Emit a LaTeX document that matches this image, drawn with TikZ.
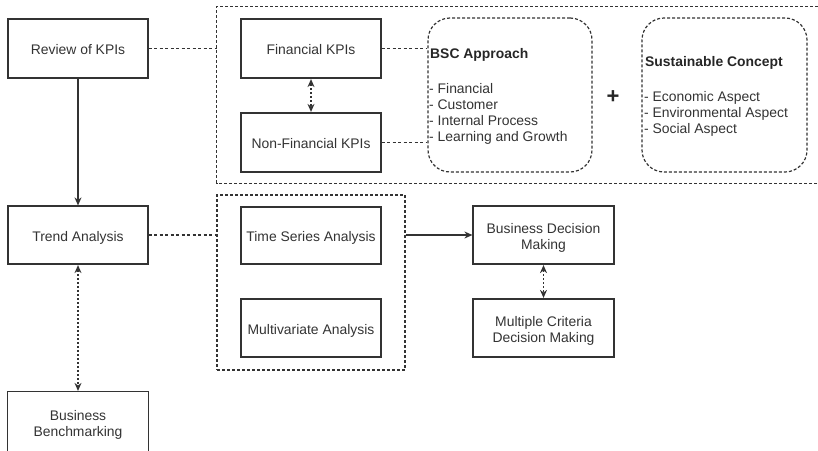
\documentclass[tikz,border=0pt]{standalone}
\usepackage{fontspec}
\setmainfont{Liberation Sans}
\usetikzlibrary{arrows.meta}
\definecolor{ink}{HTML}{333333}
\tikzset{
  box/.style={draw=ink, line width=1.2pt, rectangle, minimum width=140pt, minimum height=58pt,
    inner sep=0pt, align=center, text=ink, font=\fontsize{13.9}{16}\selectfont,
    text height=12.4pt, text depth=0pt},
  twoline/.style={text height=28.4pt, text depth=0pt},
  groupbox/.style={draw=ink, line width=1.2pt, dash pattern=on 3pt off 2pt, rectangle, inner sep=0pt},
  roundbox/.style={draw=ink, line width=1.2pt, dash pattern=on 3pt off 2pt, rectangle,
    rounded corners=22pt, inner sep=0pt},
  label/.style={inner sep=0pt, anchor=west, align=left, text=ink, font=\fontsize{13.9}{16}\selectfont},
  titletext/.style={label, font=\fontsize{13.9}{16}\selectfont\bfseries, text=black!85},
  dashlink/.style={draw=ink, line width=1.2pt, dash pattern=on 3pt off 2.5pt},
  dotlink/.style={draw=ink, line width=1.2pt, dash pattern=on 2pt off 2pt,
    {Stealth[length=8pt,width=7pt]}-{Stealth[length=8pt,width=7pt]}, shorten <=0.5pt, shorten >=0.5pt},
  solidlink/.style={draw=ink, line width=1.2pt, -{Stealth[length=8pt,width=7pt]}},
}
\begin{document}
\begin{tikzpicture}[x=1pt, y=-1pt]
  \useasboundingbox (0,0) rectangle (818,450);

  % group frames
  \node[inner sep=0pt, minimum width=601pt, minimum height=176pt] (kpigroup) at (517.5,95) {};
  \draw[groupbox] (kpigroup.north east) -- (kpigroup.north west) -- (kpigroup.south west) -- (kpigroup.south east);
  \node[groupbox, minimum width=188pt, minimum height=175pt] (tgroup) at (311,282.5) {};

  % left column
  \node[box, minimum height=59pt] (review) at (78,48.5) {Review of KPIs};
  \node[box] (trend) at (78,235) {Trend Analysis};
  \node[box, twoline, draw=none, minimum height=60pt] (bench) at (78,422) {Business\\Benchmarking};
  \draw[draw=ink, line width=1.2pt] (bench.south west) -- (bench.north west) -- (bench.north east) -- (bench.south east);

  % KPI boxes
  \node[box, minimum height=59pt] (fin) at (311,48.5) {Financial KPIs};
  \node[box, minimum height=59pt] (nonfin) at (311,142.5) {Non-Financial KPIs};

  % analysis boxes
  \node[box, minimum height=57pt] (tsa) at (311,235.5) {Time Series Analysis};
  \node[box] (mva) at (311,328) {Multivariate Analysis};

  % decision boxes
  \node[box, twoline, minimum width=141pt] (bdm) at (543.5,235) {Business Decision\\Making};
  \node[box, twoline, minimum width=141pt] (mcdm) at (543.5,328) {Multiple Criteria\\Decision Making};

  % BSC approach
  \node[roundbox, minimum width=164pt, minimum height=154pt] (bsc) at (510,95) {};
  \node[titletext] (bsctitle) at (430,55) {BSC Approach};
  \node[label] (bsclist) at (429,113.5) {- Financial\\- Customer\\- Internal Process\\- Learning and Growth};

  % sustainable concept
  \node[roundbox, minimum width=165pt, minimum height=154pt] (sus) at (724.5,95) {};
  \node[titletext] (sustitle) at (645,63) {Sustainable Concept};
  \node[label] (suslist) at (644,113.5) {- Economic Aspect\\- Environmental Aspect\\- Social Aspect};

  \node[inner sep=0pt, text=black!85, font=\fontsize{22}{22}\selectfont\bfseries] (plus) at (613,97) {+};

  % connectors
  \draw[dashlink] (review.east) -- (review.east -| kpigroup.west);
  \draw[dashlink] (fin.east) -- (fin.east -| bsc.west);
  \draw[dashlink] (nonfin.east) -- (nonfin.east -| bsc.west);
  \draw[dotlink] (fin.south) -- (nonfin.north);
  \draw[solidlink] (review.south) -- (trend.north);
  \draw[dashlink] (trend.east) -- (trend.east -| tgroup.west);
  \draw[dotlink] (trend.south) -- (bench.north);
  \draw[solidlink] (tgroup.east |- bdm.west) -- (bdm.west);
  \draw[dotlink] (bdm.south) -- (mcdm.north);
\end{tikzpicture}
\end{document}
